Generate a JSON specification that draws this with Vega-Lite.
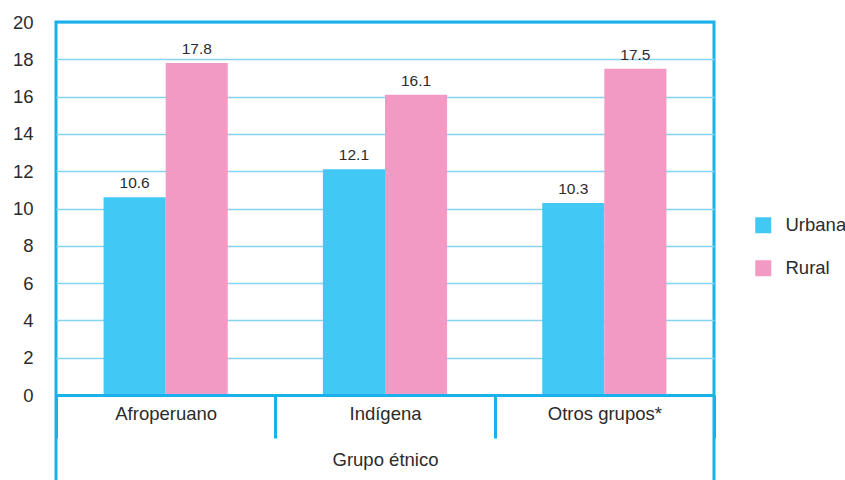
{
  "$schema": "https://vega.github.io/schema/vega-lite/v6.json",
  "width": 658,
  "height": 461,
  "autosize": {"type": "none"},
  "padding": {"left": 56, "top": 22, "right": 131, "bottom": 0},
  "background": "white",
  "config": {
    "view": {"stroke": "#1ab0ec", "strokeWidth": 3},
    "font": "Liberation Sans",
    "axis": {"labelFont": "Liberation Sans", "titleFont": "Liberation Sans"}
  },
  "data": {
    "values": [
      {"grupo": "Afroperuano", "area": "Urbana", "valor": 10.6},
      {"grupo": "Afroperuano", "area": "Rural", "valor": 17.8},
      {"grupo": "Indígena", "area": "Urbana", "valor": 12.1},
      {"grupo": "Indígena", "area": "Rural", "valor": 16.1},
      {"grupo": "Otros grupos*", "area": "Urbana", "valor": 10.3},
      {"grupo": "Otros grupos*", "area": "Rural", "valor": 17.5}
    ]
  },
  "encoding": {
    "x": {
      "field": "grupo", "type": "nominal", "sort": null,
      "scale": {"paddingInner": 0, "paddingOuter": 0},
      "axis": {
        "title": "Grupo étnico",
        "labelAngle": 0,
        "labelFontSize": 18.5,
        "labelColor": "#2b2b2b",
        "titleFontSize": 18.5,
        "titleFontWeight": "normal",
        "titleColor": "#2b2b2b",
        "titlePadding": 11,
        "tickBand": "extent",
        "tickSize": 43,
        "tickWidth": 3,
        "tickColor": "#1ab0ec",
        "domainColor": "#1ab0ec",
        "domainWidth": 3,
        "labelPadding": -34,
        "offset": -88,
        "zindex": 1
      }
    },
    "xOffset": {
      "field": "area", "type": "nominal", "sort": ["Urbana", "Rural"],
      "scale": {"paddingInner": 0, "paddingOuter": 0.766}
    },
    "y": {
      "field": "valor", "type": "quantitative",
      "scale": {"domain": [0, 20], "range": [373, 0], "nice": false},
      "axis": {
        "title": null,
        "values": [0, 2, 4, 6, 8, 10, 12, 14, 16, 18, 20],
        "domain": false,
        "ticks": false,
        "tickSize": 0,
        "labelPadding": 23,
        "labelFontSize": 18.5,
        "labelColor": "#2b2b2b",
        "gridColor": {"condition": {"test": "datum.value === 20 || datum.value === 0", "value": "#1ab0ec"}, "value": "#86d3f2"},
        "gridWidth": 1.5
      }
    }
  },
  "layer": [
    {
      "mark": {"type": "bar"},
      "encoding": {
        "color": {
          "field": "area", "type": "nominal",
          "sort": ["Urbana", "Rural"],
          "scale": {"domain": ["Urbana", "Rural"], "range": ["#42c8f4", "#f39ac4"]},
          "legend": {
            "title": null,
            "orient": "none",
            "legendX": 698,
            "legendY": 194,
            "padding": 0,
            "symbolType": "square",
            "symbolSize": 256,
            "symbolStrokeWidth": 0,
            "labelFontSize": 18.5,
            "labelColor": "#2b2b2b",
            "labelOffset": 13,
            "rowPadding": 24
          }
        }
      }
    },
    {
      "mark": {"type": "text", "baseline": "bottom", "dy": -6, "fontSize": 15.5, "color": "#2b2b2b"},
      "encoding": {
        "text": {"field": "valor", "type": "quantitative", "format": ".1f"}
      }
    }
  ]
}
